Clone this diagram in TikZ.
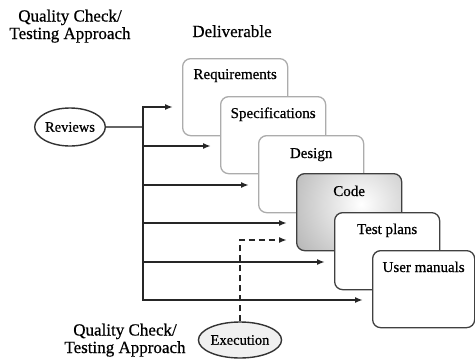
\documentclass[tikz,border=0pt]{standalone}
\usepackage{fontspec}
\setmainfont[FakeBold=0.6]{Liberation Serif}
\usetikzlibrary{arrows.meta,calc,shapes.geometric}

\begin{document}
\begin{tikzpicture}[x=1pt,y=-1pt,
  title/.style={align=center, inner sep=0pt, font=\fontsize{17}{17.5}\selectfont},
  deliv/.style={draw=gray!65, rounded corners=8pt, fill=white, line width=1.3pt,
                minimum width=105pt, minimum height=77pt, inner sep=0pt, anchor=north west},
  darkdeliv/.style={deliv, draw=black!75},
  boxlabel/.style={inner sep=0pt, anchor=base, font=\fontsize{15}{18}\selectfont},
  oval/.style={ellipse, draw=black!80, line width=1.4pt, fill=white, inner sep=0pt,
               font=\fontsize{14.5}{17}\selectfont},
  flow/.style={draw=black!85, line width=1.6pt, shorten >=9pt,
               -{Latex[length=8pt,width=6pt]}},
  trunk/.style={draw=black!85, line width=1.6pt, line cap=rect},
  link/.style={draw=black!60, line width=1.6pt},
  probe/.style={flow, dash pattern=on 6pt off 4pt}
]
\fill[white] (0,0) rectangle (475,360);
\useasboundingbox (0,0) rectangle (475,360);

% column headings
\node[title, anchor=north] (qtop) at (70,9.5) {Quality Check/\\Testing Approach};
\node[title, anchor=base] (dhead) at (232,37) {Deliverable};
\node[title, anchor=north] (qbot) at (125,323.5) {Quality Check/\\Testing Approach};

% staircase of deliverables
\node[deliv] (req) at (182,58) {};
\node[boxlabel] (reqt) at ($(req.north)+(0,21)$) {Requirements};
\node[deliv] (spec) at (220,96) {};
\node[boxlabel] (spect) at ($(spec.north)+(0,22)$) {Specifications};
\node[deliv] (des) at (258,135) {};
\node[boxlabel] (dest) at ($(des.north)+(0,23)$) {Design};
\node[darkdeliv, path picture={
    \shade[inner color=white, outer color=gray!58]
      ($(path picture bounding box.center)+(12,-8)$) circle (80pt);}]
  (code) at (296,173) {};
\node[boxlabel] (codet) at ($(code.north)+(0,23)$) {Code};
\node[darkdeliv] (test) at (334,212) {};
\node[boxlabel] (testt) at ($(test.north)+(0,22)$) {Test plans};
\node[darkdeliv, minimum width=102pt] (user) at (372,250) {};
\node[boxlabel] (usert) at ($(user.north)+(0,22)$) {User manuals};

% review feeds
\node[oval, minimum width=68pt, minimum height=38pt] (rev) at (70,127) {Reviews};
\coordinate (t1) at (143,107);
\coordinate (t2) at (143,146);
\coordinate (t3) at (143,185);
\coordinate (t4) at (143,223);
\coordinate (t5) at (143,262);
\coordinate (t6) at (143,300);
\draw[link] (rev.east) -- (rev.east -| t1);
\draw[trunk] (t1) -- (t6);
\draw[flow] (t1) -- (t1 -| req.west);
\draw[flow] (t2) -- (t2 -| spec.west);
\draw[flow] (t3) -- (t3 -| des.west);
\draw[flow] (t4) -- (t4 -| code.west);
\draw[flow] (t5) -- (t5 -| test.west);
\draw[flow] (t6) -- (t6 -| user.west);

% execution feed
\node[oval, fill=gray!12, minimum width=79pt, minimum height=36pt] (exe) at (240,340) {Execution};
\coordinate (d) at (240,240);
\draw[probe] (exe.north) -- (d) -- (d -| code.west);
\end{tikzpicture}
\end{document}
